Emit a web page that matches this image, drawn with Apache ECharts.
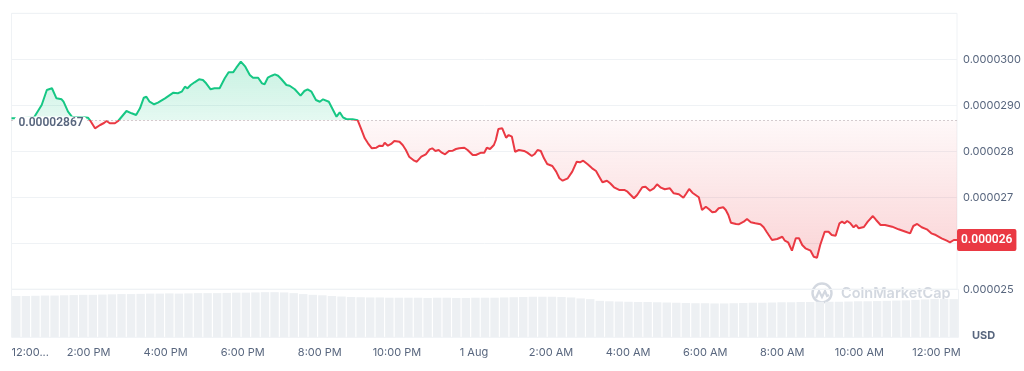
<!DOCTYPE html>
<html><head><meta charset="utf-8">
<script src="https://cdn.jsdelivr.net/npm/echarts@6/dist/echarts.min.js"></script>
<style>html,body{margin:0;padding:0;background:#fff}#c{width:1024px;height:371px}</style>
</head><body><div id="c"></div>
<script>
// Reference price (24h open) shown as dotted baseline
const baseline = 0.00002867;

// Minutes since 12:00 PM (31 Jul)
const timeMinutes = [
  0, 19, 35, 38, 47, 55, 63, 65, 70, 78,
  81, 88, 94, 104, 112, 119, 122, 130, 138, 144,
  148, 153, 161, 166, 179, 187, 194, 200, 206, 210,
  215, 222, 228, 239, 252, 259, 265, 270, 274, 279,
  285, 292, 298, 303, 310, 316, 324, 332, 338, 345,
  350, 357, 360, 364, 371, 376, 384, 390, 394, 399,
  405, 410, 415, 420, 428, 433, 441, 450, 456, 461,
  467, 474, 480, 485, 494, 498, 506, 511, 516, 521,
  531, 539, 544, 550, 555, 561, 568, 573, 578, 581,
  586, 591, 596, 604, 609, 614, 619, 627, 631, 638,
  645, 651, 655, 660, 665, 670, 675, 681, 687, 692,
  697, 705, 710, 718, 723, 731, 736, 740, 745, 751,
  754, 758, 764, 770, 774, 779, 784, 790, 798, 803,
  810, 814, 819, 824, 829, 834, 842, 848, 853, 858,
  866, 873, 880, 885, 890, 897, 904, 910, 915, 920,
  927, 932, 938, 946, 954, 959, 964, 969, 974, 982,
  987, 994, 1000, 1005, 1011, 1017, 1025, 1031, 1039, 1046,
  1050, 1055, 1060, 1065, 1070, 1075, 1081, 1086, 1091, 1096,
  1101, 1108, 1112, 1116, 1120, 1128, 1132, 1140, 1145, 1151,
  1158, 1166, 1171, 1176, 1184, 1192, 1200, 1204, 1209, 1215,
  1221, 1226, 1231, 1236, 1244, 1249, 1254, 1259, 1266, 1272,
  1277, 1283, 1289, 1293, 1297, 1301, 1306, 1311, 1315, 1319,
  1327, 1333, 1341, 1346, 1353, 1360, 1371, 1381, 1392, 1399,
  1404, 1410, 1417, 1425, 1432, 1439, 1448, 1456, 1461, 1467,
  1472
];

// Price in USD
const prices = [
  0.000028717, 0.000028724, 0.000028735, 0.000028752, 0.000029007, 0.000029333, 0.000029370, 0.000029348, 0.000029152, 0.000029130,
  0.000029078, 0.000028861, 0.000028752, 0.000028746, 0.000028739, 0.000028730, 0.000028680, 0.000028500, 0.000028572, 0.000028615,
  0.000028659, 0.000028609, 0.000028609, 0.000028659, 0.000028876, 0.000028826, 0.000028789, 0.000028935, 0.000029165, 0.000029187,
  0.000029078, 0.000029022, 0.000029057, 0.000029152, 0.000029274, 0.000029261, 0.000029296, 0.000029404, 0.000029370, 0.000029441,
  0.000029500, 0.000029565, 0.000029550, 0.000029478, 0.000029348, 0.000029370, 0.000029370, 0.000029587, 0.000029717, 0.000029717,
  0.000029817, 0.000029948, 0.000029963, 0.000029839, 0.000029659, 0.000029600, 0.000029600, 0.000029478, 0.000029457, 0.000029600,
  0.000029643, 0.000029674, 0.000029643, 0.000029572, 0.000029441, 0.000029426, 0.000029348, 0.000029209, 0.000029311, 0.000029348,
  0.000029296, 0.000029115, 0.000029078, 0.000029130, 0.000029078, 0.000028970, 0.000028752, 0.000028848, 0.000028739, 0.000028702,
  0.000028696, 0.000028674, 0.000028500, 0.000028283, 0.000028174, 0.000028065, 0.000028078, 0.000028122, 0.000028115, 0.000028187,
  0.000028122, 0.000028159, 0.000028224, 0.000028209, 0.000028137, 0.000028028, 0.000027883, 0.000027796, 0.000027774, 0.000027883,
  0.000027935, 0.000028043, 0.000028065, 0.000028007, 0.000028028, 0.000027970, 0.000027935, 0.000028007, 0.000028013, 0.000028050,
  0.000028065, 0.000028078, 0.000028028, 0.000027920, 0.000027920, 0.000027970, 0.000027970, 0.000028078, 0.000028050, 0.000028137,
  0.000028246, 0.000028485, 0.000028500, 0.000028296, 0.000028354, 0.000028317, 0.000027991, 0.000028028, 0.000028007, 0.000027970,
  0.000027898, 0.000027935, 0.000028028, 0.000028007, 0.000027848, 0.000027724, 0.000027680, 0.000027557, 0.000027413, 0.000027361,
  0.000027413, 0.000027557, 0.000027774, 0.000027761, 0.000027796, 0.000027717, 0.000027630, 0.000027572, 0.000027448, 0.000027326,
  0.000027361, 0.000027304, 0.000027217, 0.000027159, 0.000027159, 0.000027122, 0.000027050, 0.000026978, 0.000027050, 0.000027217,
  0.000027230, 0.000027143, 0.000027196, 0.000027283, 0.000027209, 0.000027174, 0.000027196, 0.000027087, 0.000027065, 0.000026991,
  0.000027072, 0.000027180, 0.000027100, 0.000027050, 0.000027000, 0.000026724, 0.000026796, 0.000026739, 0.000026674, 0.000026687,
  0.000026761, 0.000026783, 0.000026724, 0.000026615, 0.000026448, 0.000026420, 0.000026413, 0.000026470, 0.000026528, 0.000026457,
  0.000026435, 0.000026413, 0.000026348, 0.000026239, 0.000026072, 0.000026093, 0.000026143, 0.000026057, 0.000026022, 0.000025839,
  0.000026109, 0.000026109, 0.000025963, 0.000025891, 0.000025839, 0.000025709, 0.000025687, 0.000025963, 0.000026252, 0.000026252,
  0.000026180, 0.000026165, 0.000026435, 0.000026470, 0.000026435, 0.000026485, 0.000026435, 0.000026348, 0.000026398, 0.000026326,
  0.000026354, 0.000026470, 0.000026593, 0.000026507, 0.000026398, 0.000026398, 0.000026361, 0.000026304, 0.000026252, 0.000026217,
  0.000026376, 0.000026420, 0.000026348, 0.000026304, 0.000026217, 0.000026180, 0.000026109, 0.000026057, 0.000026022, 0.000026072,
  0.000026072
];

// Volume (relative units, one bar per 15 min)
const volumes = [
  86, 86, 86.5, 87, 87, 87.5, 88, 88.5, 88.5, 89, 89.5,
  90, 90, 90.5, 91, 91, 91.5, 91, 91.5, 92, 92,
  92, 92.5, 93, 93, 93.5, 94, 94, 93.5, 92, 90,
  88.5, 87.5, 86, 85, 84, 83.5, 83, 83, 82.5, 82.5,
  82.5, 82.5, 82, 82.5, 82.5, 82, 82, 82.5, 82.5, 82.5,
  83, 83.5, 84, 84.5, 84.5, 84.5, 84, 83, 81, 79.5,
  76, 75, 74.5, 74, 73.5, 73.5, 73, 72.5, 72, 71.5,
  71, 71, 70.5, 70.5, 71, 71.5, 72, 72, 72.5, 73,
  73, 73.5, 73.5, 74, 74, 74, 74.5, 75, 75, 75.5,
  76, 76.5, 77, 78, 79, 80, 80, 79.5
];

const xTickLabels = ['12:00...', '2:00 PM', '4:00 PM', '6:00 PM', '8:00 PM', '10:00 PM', '1 Aug',
  '2:00 AM', '4:00 AM', '6:00 AM', '8:00 AM', '10:00 AM', '12:00 PM'];
const yTickLabels = ['0.000025', '0.000026', '0.000027', '0.000028', '0.0000290', '0.0000300', ''];

const GREEN = '#16c784', RED = '#ea3943', TXT = '#58667e', GRID = '#eff2f5';
const FONT = 'Inter, Roboto, sans-serif';
const TAGFONT = 'Roboto, Inter, sans-serif';

const priceData = timeMinutes.map((t, i) => [t, prices[i]]);
const volCats = volumes.map((_, i) => i);
const maxP = Math.max(...prices), minP = Math.min(...prices);
const lastT = timeMinutes[timeMinutes.length - 1];
const lastP = prices[prices.length - 1];

const chart = echarts.init(document.getElementById('c'), null, {renderer: 'canvas'});
chart.setOption({
  animation: false,
  textStyle: {fontFamily: FONT},
  grid: [
    {left: 11.5, right: 65.5, top: 13.3, height: 276, show: true, borderColor: GRID, borderWidth: 1},
    {left: 11.5, right: 65.5, top: 289.3, height: 48, show: true, borderColor: GRID, borderWidth: 1}
  ],
  xAxis: [
    {
      type: 'value', gridIndex: 0, min: 0, max: lastT, interval: 120,
      position: 'bottom', offset: 48,
      axisLine: {show: false}, axisTick: {show: false}, splitLine: {show: false},
      axisLabel: {
        color: TXT, fontSize: 11, fontFamily: FONT, margin: 10,
        showMaxLabel: false, alignMinLabel: 'left',
        formatter: v => (v % 120 === 0 ? (xTickLabels[v / 120] || '') : '')
      }
    },
    {type: 'category', gridIndex: 1, data: volCats, show: false, boundaryGap: true}
  ],
  yAxis: [
    {
      type: 'value', gridIndex: 0, position: 'right',
      min: 0.000025, max: 0.000031, interval: 0.000001,
      axisLine: {show: false}, axisTick: {show: false},
      splitLine: {lineStyle: {color: GRID, width: 1}},
      axisLabel: {
        color: TXT, fontSize: 11, fontFamily: FONT, margin: 6,
        formatter: v => yTickLabels[Math.round((v - 0.000025) / 0.000001)] || ''
      }
    },
    {type: 'value', gridIndex: 1, min: 0, max: 100, show: false, splitLine: {show: false}}
  ],
  graphic: [
    {type: 'text', left: 972, top: 330, style: {text: 'USD', fill: TXT, font: 'bold 11px ' + FONT}},
    {
      type: 'group', left: 810, top: 281, silent: true,
      children: [
        {type: 'circle', shape: {cx: 11, cy: 10, r: 9.5}, style: {fill: 'none', stroke: '#d3d8e0', lineWidth: 2.4}},
        {type: 'polyline', shape: {points: [[5, 15], [8, 8], [11, 14], [14, 8], [16, 13], [18, 12]]},
          style: {fill: 'none', stroke: '#d3d8e0', lineWidth: 2.2}},
        {type: 'text', x: 30, y: 11, style: {text: 'CoinMarketCap', fill: '#d3d8e0', font: '600 14.5px ' + FONT, verticalAlign: 'middle'}}
      ]
    }
  ],
  series: [
    {
      id: 'price', type: 'line', xAxisIndex: 0, yAxisIndex: 0, data: priceData,
      showSymbol: false, symbol: 'none', z: 3,
      lineStyle: {width: 2, color: GREEN},
      areaStyle: {origin: baseline, color: 'rgba(22,199,132,0.2)'},
      markLine: {
        silent: true, symbol: ['none', 'none'], precision: 12,
        label: {show: false},
        lineStyle: {type: [1, 3], color: '#a99aa0', width: 1},
        data: [{yAxis: baseline}]
      },
      markPoint: {
        silent: true, symbol: 'circle', symbolSize: 0,
        itemStyle: {color: 'rgba(0,0,0,0)'},
        data: [
          {
            coord: [0, baseline],
            label: {
              show: true, position: 'right', distance: 3, offset: [0, 3],
              formatter: baseline.toFixed(8),
              color: TXT, fontSize: 12, fontWeight: 600, fontFamily: TAGFONT,
              backgroundColor: '#ffffff', padding: [1, 3, 1, 4], borderRadius: 4
            }
          },
          {
            coord: [lastT, lastP],
            label: {
              show: true, position: 'right', distance: 0,
              formatter: lastP.toFixed(6),
              color: '#ffffff', fontSize: 12, fontWeight: 600, fontFamily: TAGFONT,
              backgroundColor: RED, padding: [5, 4, 5, 4], borderRadius: 2
            }
          }
        ]
      }
    },
    {
      type: 'bar', xAxisIndex: 1, yAxisIndex: 1, data: volumes,
      barCategoryGap: '12%', silent: true,
      itemStyle: {color: '#edf0f3'}
    }
  ]
});

// Colour split at the baseline, using the axis scale for pixel positions
const yb = chart.convertToPixel({yAxisIndex: 0}, baseline);
const yTop = chart.convertToPixel({yAxisIndex: 0}, maxP);
const yBot = chart.convertToPixel({yAxisIndex: 0}, minP);
const fb = (yb - yTop) / (yBot - yTop);
chart.setOption({
  series: [{
    id: 'price',
    lineStyle: {
      color: {
        type: 'linear', global: true, x: 0, y: yb - 1, x2: 0, y2: yb + 1,
        colorStops: [{offset: 0, color: GREEN}, {offset: 0.5, color: GREEN},
                     {offset: 0.5, color: RED}, {offset: 1, color: RED}]
      }
    },
    areaStyle: {
      color: {
        type: 'linear', global: true, x: 0, y: yTop, x2: 0, y2: yBot,
        colorStops: [
          {offset: 0, color: 'rgba(22,199,132,0.34)'},
          {offset: fb, color: 'rgba(22,199,132,0.16)'},
          {offset: fb, color: 'rgba(234,57,67,0.05)'},
          {offset: 1, color: 'rgba(234,57,67,0.30)'}
        ]
      }
    }
  }]
});
</script>
</body></html>
